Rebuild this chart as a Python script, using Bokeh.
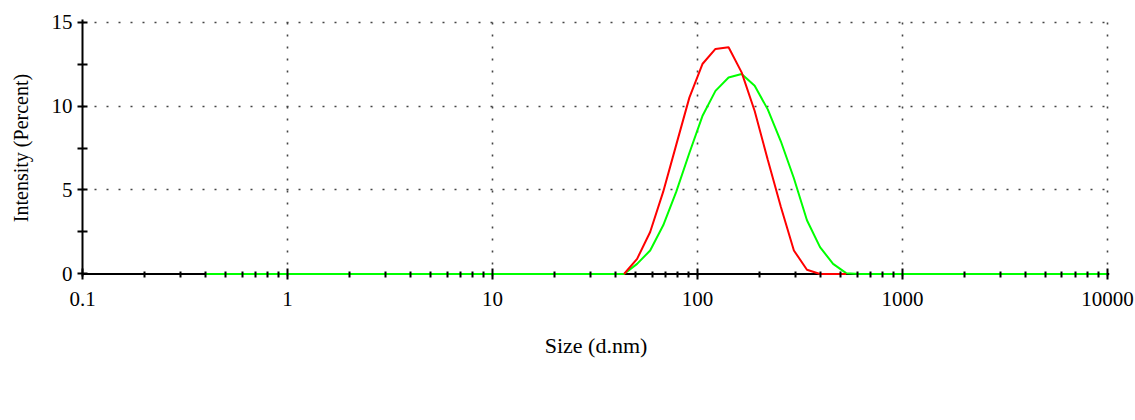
from bokeh.plotting import figure
from bokeh.models import (Range1d, FixedTicker, CustomJSTickFormatter, Span,
                          Legend, LegendItem)
from bokeh.embed import file_html
from bokeh.resources import INLINE

# DLS size bins (d.nm)
sizes = [0.4, 0.4632, 0.5365, 0.6213, 0.7195, 0.8332, 0.9649, 1.117, 1.294, 1.499,
         1.736, 2.010, 2.328, 2.696, 3.122, 3.615, 4.187, 4.849, 5.615, 6.503,
         7.531, 8.721, 10.10, 11.70, 13.54, 15.69, 18.17, 21.04, 24.36, 28.21,
         32.67, 37.84, 43.82, 50.75, 58.77, 68.06, 78.82, 91.28, 105.7, 122.4,
         141.8, 164.2, 190.1, 220.2, 255.0, 295.3, 342.0, 396.1, 458.7, 531.2,
         615.1, 712.4, 825.0, 955.4, 1106, 1281, 1484, 1718, 1990, 2305,
         2669, 3091, 3580, 4145, 4801, 5560, 6439, 7456, 8635, 10000]

# TFDMCPL intensity (%) for every bin
tfdmcpl = [0, 0, 0, 0, 0, 0, 0, 0, 0, 0,
           0, 0, 0, 0, 0, 0, 0, 0, 0, 0,
           0, 0, 0, 0, 0, 0, 0, 0, 0, 0,
           0, 0, 0, 0.6, 1.4, 2.9, 4.9, 7.2, 9.4, 10.9,
           11.7, 11.9, 11.2, 9.8, 7.9, 5.7, 3.2, 1.6, 0.6, 0.05,
           0, 0, 0, 0, 0, 0, 0, 0, 0, 0,
           0, 0, 0, 0, 0, 0, 0, 0, 0, 0]

# CPL of blank: bins 43.82 .. 531.2
blank_sizes = sizes[32:50]
blank = [0, 0.9, 2.5, 4.9, 7.7, 10.5, 12.5, 13.4, 13.5, 12.0,
         9.7, 6.8, 4.0, 1.4, 0.25, 0, 0, 0]

series_names = ["CPL of blank", "TFDMCPL"]
x_major = [0.1, 1, 10, 100, 1000, 10000]
x_minor = [m * 10.0 ** e for e in range(-1, 4) for m in range(2, 10)]
y_major = [0, 5, 10, 15]
y_minor = [2.5, 7.5, 12.5]

FONT = "Liberation Serif"

p = figure(frame_width=1027, frame_height=257, x_axis_type="log",
           x_range=Range1d(0.1, 10230), y_range=Range1d(-0.15, 15.15),
           output_backend="svg", toolbar_location=None,
           min_border_left=82, min_border_right=26,
           min_border_top=19, min_border_bottom=120)
p.outline_line_color = None
p.background_fill_color = "white"
p.border_fill_color = "white"

# grids (dotted)
p.xgrid.ticker = FixedTicker(ticks=x_major[1:])
p.ygrid.ticker = FixedTicker(ticks=y_major[1:])
for g in (p.xgrid, p.ygrid):
    g.grid_line_color = "#444444"
    g.grid_line_width = 1.6
    g.grid_line_dash = "2 10"

# x axis
xa = p.xaxis[0]
xa.ticker = FixedTicker(ticks=x_major, minor_ticks=x_minor)
xa.formatter = CustomJSTickFormatter(code="return String(tick);")
xa.axis_line_color = None
xa.major_tick_in = 8
xa.major_tick_out = 3
xa.minor_tick_in = 5
xa.minor_tick_out = 1
xa.major_tick_line_width = 2
xa.minor_tick_line_width = 2
xa.major_tick_line_color = "black"
xa.minor_tick_line_color = "black"
xa.major_label_text_font = FONT
xa.major_label_text_font_size = "21px"
xa.major_label_text_color = "black"
xa.major_label_standoff = 12
xa.axis_label = "Size (d.nm)"
xa.axis_label_text_font = FONT
xa.axis_label_text_font_size = "22px"
xa.axis_label_text_font_style = "normal"
xa.axis_label_text_color = "black"
xa.axis_label_standoff = 24

# y axis
ya = p.yaxis[0]
ya.ticker = FixedTicker(ticks=y_major, minor_ticks=y_minor)
ya.axis_line_color = "black"
ya.axis_line_width = 2
ya.major_tick_in = 5
ya.major_tick_out = 5
ya.minor_tick_in = 5
ya.minor_tick_out = 5
ya.major_tick_line_width = 2
ya.minor_tick_line_width = 2
ya.major_tick_line_color = "black"
ya.minor_tick_line_color = "black"
ya.major_label_text_font = FONT
ya.major_label_text_font_size = "21px"
ya.major_label_text_color = "black"
ya.major_label_standoff = 5
ya.axis_label = "Intensity (Percent)"
ya.axis_label_text_font = FONT
ya.axis_label_text_font_size = "20px"
ya.axis_label_text_font_style = "normal"
ya.axis_label_text_color = "black"
ya.axis_label_standoff = 17

# x axis baseline at y = 0, under the curves
p.add_layout(Span(location=0, dimension="width", line_color="black",
                  line_width=2, level="underlay"))

r_green = p.line(sizes, tfdmcpl, line_color="#00ff00", line_width=2)
r_red = p.line(blank_sizes, blank, line_color="#ff0000", line_width=2)

legend = Legend(items=[LegendItem(label=series_names[0], renderers=[r_red]),
                       LegendItem(label=series_names[1], renderers=[r_green])],
                location="center", orientation="horizontal",
                glyph_width=87, glyph_height=20, label_standoff=25, spacing=22,
                padding=0, margin=0, border_line_color=None,
                background_fill_alpha=0,
                label_text_font=FONT, label_text_font_size="28px",
                label_text_color="black")
p.add_layout(legend, "below")

open("out.html", "w").write(file_html(p, INLINE))
